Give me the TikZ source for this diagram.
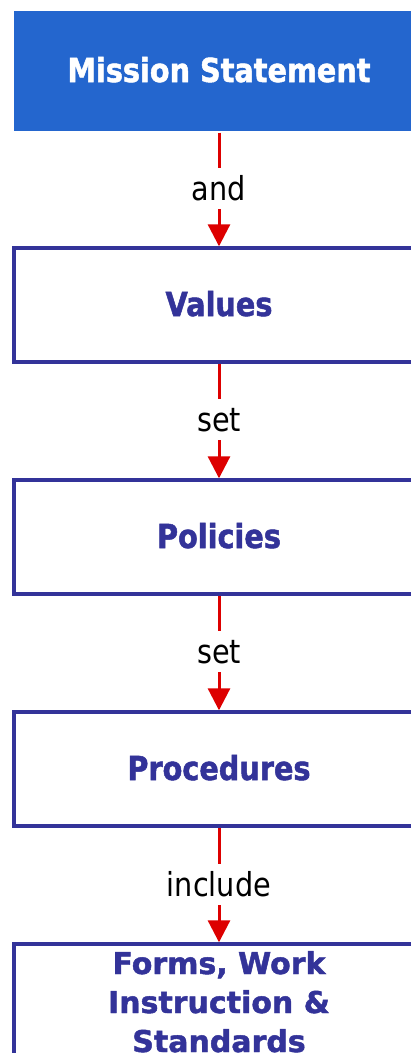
\documentclass[tikz,border=0pt]{standalone}
\usepackage{fontspec}
\setmainfont{DejaVu Sans}
\newfontfamily\boxfont[FakeStretch=0.87,BoldFeatures={FakeBold=1.5}]{DejaVu Sans}
\newfontfamily\formsfont[BoldFeatures={FakeBold=1.5}]{DejaVu Sans}
\usetikzlibrary{arrows.meta}
\definecolor{navy}{RGB}{51,51,153}
\definecolor{msblue}{RGB}{36,102,206}
\definecolor{arrred}{RGB}{221,0,0}
\begin{document}
\begin{tikzpicture}[x=1pt,y=-1pt,
  box/.style={draw=navy,line width=3.4pt,fill=white,minimum width=410pt,minimum height=114pt,
    inner sep=0pt,text=navy,font=\boxfont\bfseries\fontsize{33}{36}\selectfont,
    text height=22pt,text depth=0pt},
  topbox/.style={box,draw=none,fill=msblue,text=white,minimum height=120pt},
  lbl/.style={fill=white,inner xsep=3pt,inner ysep=0pt,font=\boxfont\fontsize{33}{36}\selectfont,
    text height=32pt,text depth=9pt,anchor=base},
  arr/.style={draw=arrred,line width=3pt,-{Triangle[width=22pt,length=22pt]}}]
\clip (0,0) rectangle (411,1053);
\fill[white] (0,0) rectangle (411,1053);
\node[topbox] (mission) at (219,71) {Mission Statement};
\node[box] (values) at (219,305) {Values};
\node[box] (policies) at (219,537) {Policies};
\node[box] (procedures) at (219,769) {Procedures};
\node[box,anchor=north,minimum height=160pt] (forms) at (219,942.3) {};
\node[text=navy,font=\formsfont\bfseries\fontsize{30}{39}\selectfont,align=center,anchor=base,inner sep=0pt] (formstext) at (219,1052) {Forms, Work\\Instruction \&\\Standards};
\draw[arr] (mission.south) -- (values.north);
\draw[arr] (values.south) -- (policies.north);
\draw[arr] (policies.south) -- (procedures.north);
\draw[arr] (procedures.south) -- (forms.north);
\node[lbl] (l1) at (219,200) {and};
\node[lbl] (l2) at (219,431) {set};
\node[lbl] (l3) at (219,663) {set};
\node[lbl] (l4) at (219,896) {include};
\end{tikzpicture}
\end{document}
